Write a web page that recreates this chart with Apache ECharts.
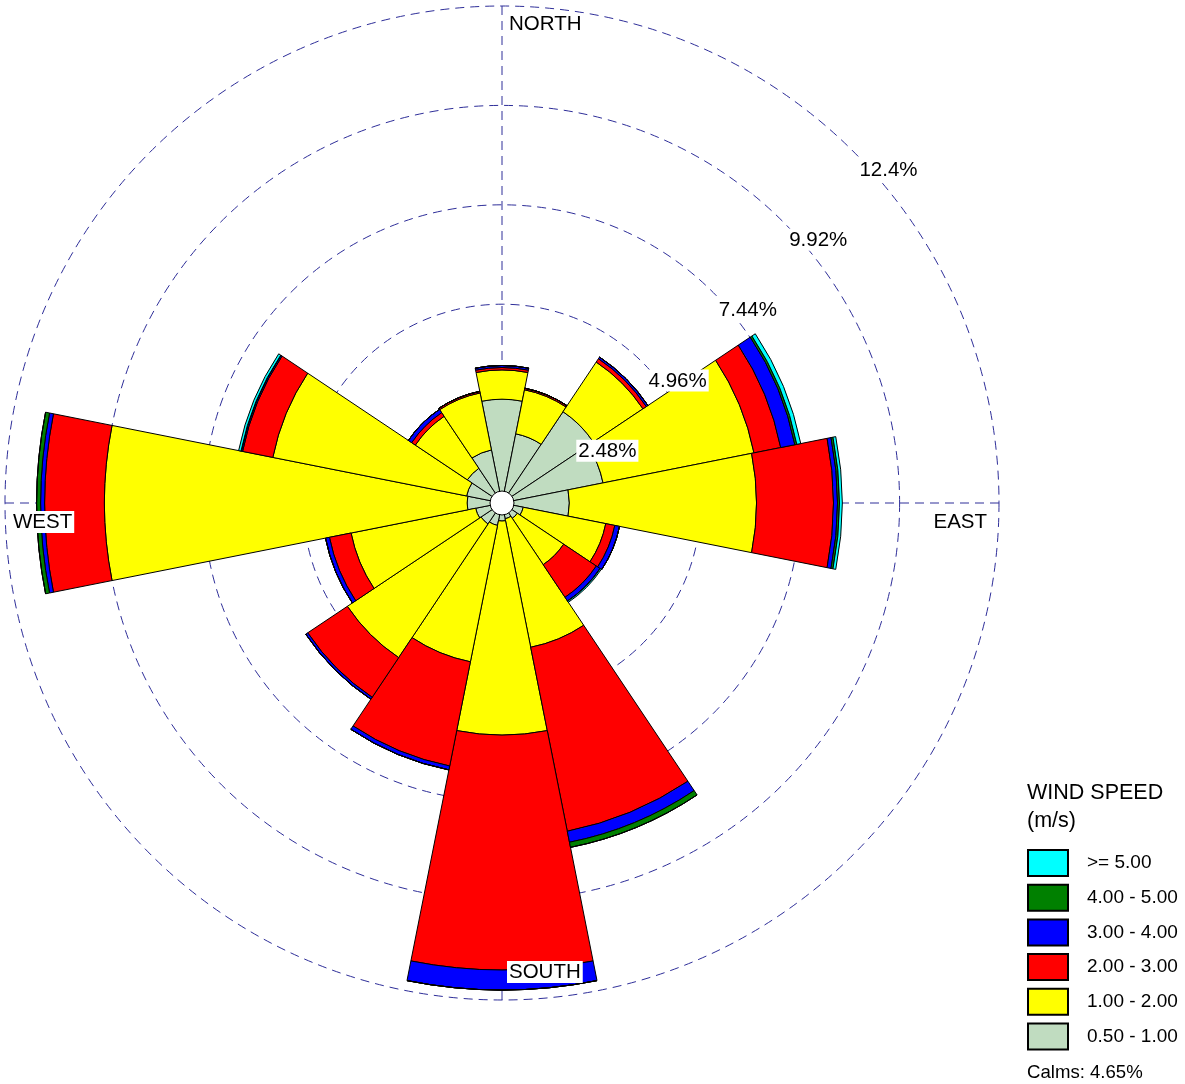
<!DOCTYPE html>
<html>
<head>
<meta charset="utf-8">
<title>Wind Rose</title>
<style>
  html, body { margin: 0; padding: 0; background: #ffffff; }
  #chart { width: 1185px; height: 1084px; }
</style>
<script src="https://cdn.jsdelivr.net/npm/echarts@6/dist/echarts.min.js"></script>
</head>
<body>
<div id="chart"></div>
<script>
// Direction sectors, clockwise from north (wind blowing from)
const directions = ['N', 'NNE', 'NE', 'ENE', 'E', 'ESE', 'SE', 'SSE',
                    'S', 'SSW', 'SW', 'WSW', 'W', 'WNW', 'NW', 'NNW'];

// Wind speed classes (m/s), innermost first
const speedClasses = ['0.50 - 1.00', '1.00 - 2.00', '2.00 - 3.00',
                      '3.00 - 4.00', '4.00 - 5.00', '>= 5.00'];
const classColors = ['#c0dcc0', '#ffff00', '#ff0000', '#0000ff', '#008000', '#00ffff'];

// Frequency of occurrence (%) per direction, one array per speed class
const speed050to100 = [2.59, 1.76, 2.74, 2.57, 1.68, 0.54, 0.46, 0.40, 0.45, 0.57, 0.63, 0.67, 0.87, 0.90, 1.04, 1.35];
const speed100to200 = [0.73, 1.12, 1.49, 3.84, 4.67, 2.10, 1.39, 3.27, 5.34, 3.47, 4.01, 3.17, 9.05, 4.93, 1.56, 1.45];
const speed200to300 = [0.06, 0.04, 0.10, 0.68, 1.92, 0.23, 0.98, 4.68, 5.86, 2.65, 1.19, 0.55, 1.49, 0.77, 0.11, 0.04];
const speed300to400 = [0.05, 0.00, 0.05, 0.36, 0.10, 0.12, 0.11, 0.28, 0.50, 0.10, 0.06, 0.10, 0.10, 0.03, 0.10, 0.00];
const speed400to500 = [0.00, 0.00, 0.00, 0.05, 0.05, 0.00, 0.01, 0.13, 0.00, 0.00, 0.00, 0.00, 0.10, 0.01, 0.00, 0.00];
const speedAbove500 = [0.00, 0.00, 0.00, 0.10, 0.07, 0.00, 0.03, 0.00, 0.00, 0.00, 0.00, 0.00, 0.00, 0.06, 0.00, 0.00];

// Percentage rings and compass labels
const ringTicks = [2.48, 4.96, 7.44, 9.92, 12.4];
const ringMax = 12.4;
const compassNames = ['NORTH', 'EAST', 'SOUTH', 'WEST'];
const compassAngles = [0, 90, 180, 270];
const calmsPercent = 4.65;

const speedSeriesData = [speed050to100, speed100to200, speed200to300,
                         speed300to400, speed400to500, speedAbove500];

const CENTER = [502, 503];
const RADIUS = 497;
const GRID_COLOR = '#2e2e99';
const FONT = '"Liberation Sans", Arial, sans-serif';
const HIDDEN = 'rgba(0,0,0,0)';

const chart = echarts.init(document.getElementById('chart'), null, { renderer: 'canvas' });

const hiddenAxis = {
  axisLine: { show: false }, axisTick: { show: false },
  axisLabel: { show: false }, splitLine: { show: false }, splitArea: { show: false }
};

const barSeries = speedSeriesData.map((values, i) => ({
  type: 'bar',
  name: speedClasses[i],
  coordinateSystem: 'polar',
  polarIndex: 0,
  stack: 'rose',
  barCategoryGap: '0%',
  data: values,
  z: 3,
  itemStyle: { color: classColors[i], borderColor: '#000000', borderWidth: 1 }
}));

const labelBox = {
  show: true,
  formatter: p => p.name,
  fontSize: 20.5,
  fontFamily: FONT,
  color: '#000000',
  opacity: 1,
  backgroundColor: '#ffffff',
  padding: [1, 2, 0, 2]
};

// Ring value labels along the 45 degree bearing
const ringLabelSeries = {
  type: 'scatter',
  coordinateSystem: 'polar',
  polarIndex: 1,
  symbolSize: 2,
  itemStyle: { color: HIDDEN, opacity: 1 },
  silent: true,
  z: 6,
  data: ringTicks.map(v => ({ value: [v, 45], name: v + '%' })),
  label: Object.assign({}, labelBox, { position: [5, 8], align: 'left', verticalAlign: 'top' })
};

// Compass point labels on the outer ring
const compassOffsets = {
  NORTH: { position: [6, 8], align: 'left', verticalAlign: 'top' },
  EAST: { position: [-9, 9], align: 'right', verticalAlign: 'top' },
  SOUTH: { position: [6, -16], align: 'left', verticalAlign: 'bottom' },
  WEST: { position: [7, 9], align: 'left', verticalAlign: 'top' }
};
const compassSeries = {
  type: 'scatter',
  coordinateSystem: 'polar',
  polarIndex: 1,
  symbolSize: 2,
  itemStyle: { color: HIDDEN, opacity: 1 },
  silent: true,
  z: 6,
  data: compassNames.map((n, i) => ({
    value: [ringMax, compassAngles[i]],
    name: n,
    label: Object.assign({}, compassOffsets[n])
  })),
  label: labelBox
};

const gridLine = { show: true, lineStyle: { color: GRID_COLOR, width: 1, type: [9, 6] } };

const option = {
  animation: false,
  backgroundColor: '#ffffff',
  textStyle: { fontFamily: FONT },
  title: [
    {
      text: 'WIND SPEED\n(m/s)',
      left: 1027, top: 779, padding: 0,
      textStyle: { fontSize: 21.5, fontWeight: 'normal', color: '#000000', lineHeight: 28, fontFamily: FONT }
    },
    {
      text: 'Calms: ' + calmsPercent.toFixed(2) + '%',
      left: 1027, top: 1063, padding: 0,
      textStyle: { fontSize: 18.6, fontWeight: 'normal', color: '#000000', fontFamily: FONT }
    }
  ],
  legend: {
    orient: 'vertical',
    left: 1027,
    top: 849,
    padding: 0,
    itemWidth: 40,
    itemHeight: 26,
    itemGap: 6.7,
    icon: 'rect',
    selectedMode: false,
    data: speedClasses.slice().reverse(),
    textStyle: { fontSize: 19, color: '#000000', fontFamily: FONT, padding: [0, 0, 0, 14] }
  },
  polar: [
    { center: CENTER, radius: RADIUS },
    { center: CENTER, radius: RADIUS }
  ],
  angleAxis: [
    Object.assign({
      polarIndex: 0, type: 'category', data: directions,
      startAngle: 90 + 360 / directions.length / 2, clockwise: true, boundaryGap: true
    }, hiddenAxis),
    Object.assign({}, hiddenAxis, {
      polarIndex: 1, type: 'value', min: 0, max: 360, interval: 90,
      startAngle: 90, clockwise: true, splitLine: gridLine
    })
  ],
  radiusAxis: [
    Object.assign({ polarIndex: 0, type: 'value', min: 0, max: ringMax }, hiddenAxis),
    Object.assign({}, hiddenAxis, {
      polarIndex: 1, type: 'value', min: 0, max: ringMax, interval: ringTicks[0],
      splitLine: gridLine
    })
  ],
  series: barSeries.concat([ringLabelSeries, compassSeries])
};

chart.setOption(option);

// White calm circle at the rose centre
let c = CENTER;
try {
  const p = chart.convertToPixel({ seriesIndex: barSeries.length }, [0, 0]);
  if (p && isFinite(p[0]) && isFinite(p[1])) c = p;
} catch (e) { /* keep configured centre */ }
chart.setOption({
  graphic: [{
    type: 'circle',
    z: 100,
    shape: { cx: c[0], cy: c[1], r: 12 },
    style: { fill: '#ffffff', stroke: '#000000', lineWidth: 1 }
  }]
});
</script>
</body>
</html>
